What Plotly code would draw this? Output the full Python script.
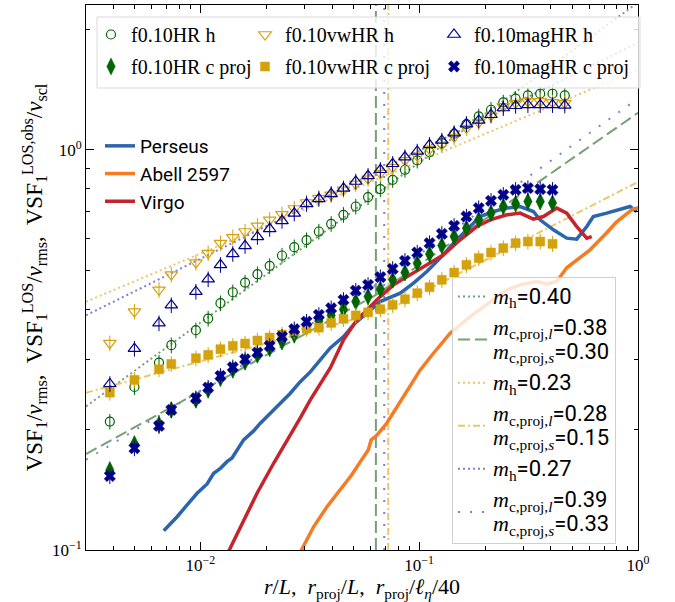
import plotly.graph_objects as go

# ---------------- data ----------------
r_h = [0.003855, 0.004994, 0.006467, 0.007362, 0.009537, 0.01085, 0.01235, 0.01406, 0.01600,
       0.01822, 0.02073, 0.02360, 0.02685, 0.03056, 0.03478, 0.03959, 0.04506, 0.05129,
       0.05837, 0.06644, 0.07562, 0.08607, 0.09795, 0.1115, 0.1269, 0.1444, 0.1644, 0.1871,
       0.2129, 0.2423, 0.2758, 0.3139, 0.3573, 0.4066, 0.4628]
r_c = r_h[:-1]

HR_h = [0.2093, 0.2556, 0.2939, 0.3249, 0.3541, 0.3787, 0.4137, 0.4406, 0.4658, 0.4889,
        0.5129, 0.5442, 0.5711, 0.5946, 0.6248, 0.6531, 0.6879, 0.7215, 0.7616, 0.7974,
        0.8414, 0.8913, 0.9403, 0.9869, 1.0393, 1.0965, 1.1594, 1.2113, 1.2589, 1.3131,
        1.3413, 1.3671, 1.3804, 1.3804, 1.3671]
vw_h = [0.3287, 0.3941, 0.4467, 0.4877, 0.5227, 0.5518, 0.5844, 0.6043, 0.6248, 0.6457,
        0.6683, 0.6899, 0.7132, 0.7383, 0.7572, 0.7718, 0.7943, 0.8222, 0.8463, 0.8736,
        0.9043, 0.9403, 0.9661, 1.0040, 1.0292, 1.0758, 1.1331, 1.1700, 1.2162, 1.2832,
        1.3085, 1.3206, 1.3206, 1.3131, 1.3085]
mag_h = [0.2600, 0.3185, 0.3688, 0.4090, 0.4421, 0.4750, 0.5158, 0.5495, 0.5754, 0.6060,
         0.6346, 0.6645, 0.6937, 0.7328, 0.7542, 0.7762, 0.8011, 0.8332, 0.8610, 0.8913,
         0.9226, 0.9589, 0.9903, 1.0292, 1.0550, 1.1009, 1.1594, 1.1836, 1.2232, 1.2715,
         1.2882, 1.2942, 1.2942, 1.2942, 1.2904]
HR_c = [0.1585, 0.1841, 0.2061, 0.2239, 0.2371, 0.2512, 0.2686, 0.2818, 0.2951, 0.3073,
        0.3190, 0.3317, 0.3447, 0.3610, 0.3736, 0.3857, 0.3992, 0.4175, 0.4297, 0.4484,
        0.4732, 0.4933, 0.5209, 0.5486, 0.5764, 0.6069, 0.6370, 0.6683, 0.6946, 0.7215,
        0.7328, 0.7426, 0.7426, 0.7358]
vw_c = [0.2473, 0.2661, 0.2829, 0.2917, 0.3014, 0.3073, 0.3175, 0.3236, 0.3280, 0.3337,
        0.3395, 0.3454, 0.3528, 0.3573, 0.3594, 0.3694, 0.3780, 0.3857, 0.3924, 0.3997,
        0.4097, 0.4233, 0.4382, 0.4536, 0.4732, 0.4933, 0.5158, 0.5360, 0.5537, 0.5679,
        0.5844, 0.5898, 0.5898, 0.5821]
mag_c = [0.1531, 0.1796, 0.2042, 0.2239, 0.2394, 0.2545, 0.2723, 0.2862, 0.2997, 0.3114,
         0.3236, 0.3413, 0.3562, 0.3721, 0.3869, 0.4019, 0.4217, 0.4448, 0.4597, 0.4806,
         0.5040, 0.5278, 0.5537, 0.5844, 0.6166, 0.6457, 0.6811, 0.7149, 0.7456, 0.7718,
         0.7943, 0.8021, 0.7974, 0.7943]

perseus_r = [0.006800, 0.007826, 0.008695, 0.009658, 0.01073, 0.01150, 0.01234, 0.01323,
             0.01395, 0.01471, 0.01576, 0.01751, 0.01879, 0.02088, 0.02319, 0.02576, 0.02861,
             0.03179, 0.03531, 0.03923, 0.04511, 0.05103, 0.05769, 0.06636, 0.08187, 0.09419,
             0.1084, 0.1247, 0.1434, 0.1651, 0.1899, 0.2184, 0.2515, 0.2892, 0.3325, 0.3568,
             0.4104, 0.4724, 0.5249, 0.5832, 0.6250, 0.7196, 0.8277, 0.9194, 0.9865]
perseus_v = [0.1117, 0.1211, 0.1296, 0.1386, 0.1462, 0.1555, 0.1600, 0.1662, 0.1698, 0.1778,
             0.1884, 0.1984, 0.2074, 0.2197, 0.2326, 0.2464, 0.2634, 0.2786, 0.2985, 0.3199,
             0.3413, 0.3694, 0.3905, 0.4175, 0.4382, 0.4642, 0.4963, 0.5360, 0.5844, 0.6310,
             0.6811, 0.7010, 0.7149, 0.7215, 0.7010, 0.6683, 0.6310, 0.6014, 0.5980, 0.6430,
             0.6811, 0.6946, 0.7079, 0.7215, 0.7010]
abell_r = [0.02802, 0.03292, 0.03790, 0.04912, 0.05377, 0.05849, 0.06035, 0.06364, 0.07069,
           0.08187, 0.09097, 0.1011, 0.1162, 0.1385, 0.1710, 0.2110, 0.2515, 0.2892, 0.3447,
           0.3829, 0.4253, 0.4724, 0.5249, 0.6037, 0.7196, 0.7991, 0.8879, 0.9489, 1.0107]
abell_v = [0.0966, 0.1143, 0.1283, 0.1540, 0.1660, 0.1778, 0.1884, 0.1928, 0.2065, 0.2344,
           0.2570, 0.2818, 0.3102, 0.3481, 0.3830, 0.4175, 0.4467, 0.4597, 0.4685, 0.4624,
           0.4685, 0.5070, 0.5309, 0.5623, 0.6202, 0.6607, 0.6918, 0.7120, 0.7161]
virgo_r = [0.01314, 0.01523, 0.01815, 0.02161, 0.02488, 0.02861, 0.03179, 0.03531, 0.03923,
           0.04511, 0.05194, 0.05769, 0.06636, 0.07632, 0.09097, 0.1084, 0.1291, 0.1539,
           0.1834, 0.2110, 0.2515, 0.2892, 0.3325, 0.3694, 0.4253, 0.4724, 0.5249, 0.5832,
           0.6145]
virgo_v = [0.0966, 0.1143, 0.1386, 0.1647, 0.1873, 0.2138, 0.2371, 0.2600, 0.2851, 0.3350,
           0.3758, 0.3981, 0.4297, 0.4597, 0.4870, 0.5158, 0.5464, 0.5957, 0.6430, 0.6683,
           0.6879, 0.6946, 0.6711, 0.6811, 0.7149, 0.6946, 0.6430, 0.6014, 0.6069]

# power-law fits (end points)
fit_r = [0.003, 1.0]
fit_HR_h = [0.2285, 2.333]
fit_vw_h = [0.4172, 1.587]
fit_mag_h = [0.3858, 1.852]
break_r = [0.0634, 0.0722, 0.0692]          # HR, vwHR, magHR
fitb_HR_r = [0.003, 0.0634, 1.0]
fitb_HR = [0.1737, 0.4337, 1.237]
fitb_vw_r = [0.003, 0.0722, 1.0]
fitb_vw = [0.2471, 0.3982, 0.8311]
fitb_mag_r = [0.003, 0.0692, 1.0]
fitb_mag = [0.1681, 0.4736, 1.343]

x_ticks = [0.01, 0.1, 1]
x_ticktext = ["10<sup>−2</sup>", "10<sup>−1</sup>", "10<sup>0</sup>"]
y_ticks = [0.1, 1]
y_ticktext = ["10<sup>−1</sup>", "10<sup>0</sup>"]
x_minor = [0.004, 0.005, 0.006, 0.007, 0.008, 0.009, 0.02, 0.03, 0.04, 0.05, 0.06, 0.07,
           0.08, 0.09, 0.2, 0.3, 0.4, 0.5, 0.6, 0.7, 0.8, 0.9]
y_minor = [0.2, 0.3, 0.4, 0.5, 0.6, 0.7, 0.8, 0.9, 2]

# ---------------- style ----------------
SERIF = "Liberation Serif"
SANS = "Roboto"
GREEN = "#006400"
GOLD = "#d4a20c"
NAVY = "#00008b"
L_GREEN = "#76a176"
L_GOLD = "#ebc66a"
L_PURP = "#7f7fd6"
C_PER = "#2b65ad"
C_ABE = "#f57c22"
C_VIR = "#c4242b"

W, H = 675, 602
ML, MR, MT, MB = 86, 37, 5, 52
PW, PH = W - ML - MR, H - MT - MB


def px2paper(px, py):
    return (px - ML) / PW, (H - MB - py) / PH


fig = go.Figure()


def fit_line(x, y, color, dash, name, legend, group):
    fig.add_trace(go.Scatter(x=x, y=y, mode="lines", name=name, legend=legend,
                             legendgroup=group,
                             line=dict(color=color, width=2, dash=dash),
                             hoverinfo="skip"))


def mlab(sub, val):
    return ('<span style="font-size:22px"><span style="font-family:Liberation Serif">'
            '<i>m</i><sub>%s</sub></span>=%s</span>' % (sub, val))


fit_line(fit_r, fit_HR_h, L_GREEN, "2px,3px", mlab("h", "0.40"), "legend5", "f1")
fit_line(fitb_HR_r, fitb_HR, L_GREEN, "12px,5px",
         mlab("c,proj,<i>l</i>", "0.38") + "<br>" + mlab("c,proj,<i>s</i>", "0.30"),
         "legend5", "f2")
fit_line(fit_r, fit_vw_h, L_GOLD, "2px,3px", mlab("h", "0.23"), "legend5", "f3")
fit_line(fitb_vw_r, fitb_vw, L_GOLD, "7px,3px,2px,3px",
         mlab("c,proj,<i>l</i>", "0.28") + "<br>" + mlab("c,proj,<i>s</i>", "0.15"),
         "legend5", "f4")
fit_line(fit_r, fit_mag_h, L_PURP, "2px,3px", mlab("h", "0.27"), "legend5", "f5")
fit_line(fitb_mag_r, fitb_mag, L_PURP, "2px,10px",
         mlab("c,proj,<i>l</i>", "0.39") + "<br>" + mlab("c,proj,<i>s</i>", "0.33"),
         "legend5", "f6")

# cluster observations
for name, xr, yv, col, g in [("Perseus", perseus_r, perseus_v, C_PER, "c1"),
                             ("Abell 2597", abell_r, abell_v, C_ABE, "c2"),
                             ("Virgo", virgo_r, virgo_v, C_VIR, "c3")]:
    fig.add_trace(go.Scatter(x=xr, y=yv, mode="lines", name=name, legend="legend4",
                             legendgroup=g, line=dict(color=col, width=3.5)))


def markers(x, y, name, legend, symbol, color, size, group, open_=False):
    fig.add_trace(go.Scatter(
        x=x, y=y, mode="markers", name=name, legend=legend, legendgroup=group,
        marker=dict(symbol=symbol, size=size, color=color,
                    line=dict(color=color, width=1.2 if open_ else 0.5)),
        error_y=dict(type="percent", value=4.5, color=color, thickness=1, width=0)))


markers(r_h, HR_h, "f0.10HR h", "legend", "circle-open", GREEN, 9, "m1", True)
markers(r_c, HR_c, "f0.10HR c proj", "legend", "diamond-tall", GREEN, 12, "m2")
markers(r_h, vw_h, "f0.10vwHR h", "legend2", "triangle-down-open", GOLD, 11, "m3", True)
markers(r_c, vw_c, "f0.10vwHR c proj", "legend2", "square", GOLD, 9, "m4")
markers(r_h, mag_h, "f0.10magHR h", "legend3", "triangle-up-open", NAVY, 11, "m5", True)
markers(r_c, mag_c, "f0.10magHR c proj", "legend3", "x", NAVY, 10, "m6")

# vertical break lines
shapes = []
for xb, col, dash in zip(break_r, [L_GREEN, L_GOLD, L_PURP],
                         ["12px,5px", "7px,3px,2px,3px", "2px,10px"]):
    shapes.append(dict(type="line", xref="x", yref="paper", x0=xb, x1=xb, y0=0, y1=1,
                       line=dict(color=col, width=2, dash=dash), layer="below"))
# frame of the top legend
bx0, by1 = px2paper(97, 17)
bx1, by0 = px2paper(640, 88)
shapes.append(dict(type="rect", xref="paper", yref="paper", x0=bx0, x1=bx1, y0=by0, y1=by1,
                   line=dict(color="#d9d9d9", width=1), fillcolor="rgba(255,255,255,0.8)",
                   layer="above"))

axis_common = dict(type="log", showgrid=False, zeroline=False, showline=True,
                   linecolor="black", linewidth=1, mirror="allticks", ticks="inside",
                   ticklen=8, tickwidth=1, tickcolor="black",
                   tickfont=dict(family=SERIF, size=17, color="black"))

fig.update_layout(
    width=W, height=H, margin=dict(l=ML, r=MR, t=MT, b=MB),
    plot_bgcolor="white", paper_bgcolor="white",
    shapes=shapes,
    xaxis=dict(axis_common, range=[-2.5229, 0], tickmode="array", tickvals=x_ticks,
               ticktext=x_ticktext, ticklabelstandoff=0,
               minor=dict(tickmode="array", tickvals=x_minor, ticks="inside", ticklen=4,
                          tickcolor="black"),
               title=dict(text="<i>r</i>/<i>L</i>,  <i>r</i><sub>proj</sub>/<i>L</i>,  "
                               "<i>r</i><sub>proj</sub>/<i>ℓ</i><sub><i>η</i></sub>/40",
                          font=dict(family=SERIF, size=22, color="black"), standoff=2)),
    yaxis=dict(axis_common, range=[-1, 0.3617], tickmode="array", tickvals=y_ticks,
               ticktext=y_ticktext,
               minor=dict(tickmode="array", tickvals=y_minor, ticks="inside", ticklen=4,
                          tickcolor="black"),
               title=dict(text="VSF<sub>1</sub>/<i>v</i><sub>rms</sub>,  "
                               "VSF<sub>1</sub><sup>LOS</sup>/<i>v</i><sub>rms</sub>,  "
                               "VSF<sub>1</sub><sup>LOS,obs</sup>/<i>v</i><sub>scl</sub>",
                          font=dict(family=SERIF, size=23, color="black"), standoff=2)),
    showlegend=True,
)

leg_common = dict(xanchor="left", yanchor="top", bgcolor="rgba(0,0,0,0)",
                  borderwidth=0, tracegroupgap=3,
                  font=dict(family=SERIF, size=20, color="black"))
lx, ly = px2paper(91, 15)
fig.update_layout(legend=dict(leg_common, x=lx, y=ly))
lx, _ = px2paper(245, 15)
fig.update_layout(legend2=dict(leg_common, x=lx, y=ly))
lx, _ = px2paper(434, 15)
fig.update_layout(legend3=dict(leg_common, x=lx, y=ly))
lx, ly = px2paper(100, 127)
fig.update_layout(legend4=dict(x=lx, y=ly, xanchor="left", yanchor="top",
                               bgcolor="rgba(0,0,0,0)", borderwidth=0, tracegroupgap=0,
                               font=dict(family=SANS, size=19, color="black")))
lx, ly = px2paper(452, 277)
fig.update_layout(legend5=dict(x=lx, y=ly, xanchor="left", yanchor="top",
                               bgcolor="rgba(255,255,255,0.8)", bordercolor="#d0d0d0",
                               borderwidth=1, tracegroupgap=4, valign="middle",
                               font=dict(family=SANS, size=18.5, color="black")))

fig.write_html("out.html")
